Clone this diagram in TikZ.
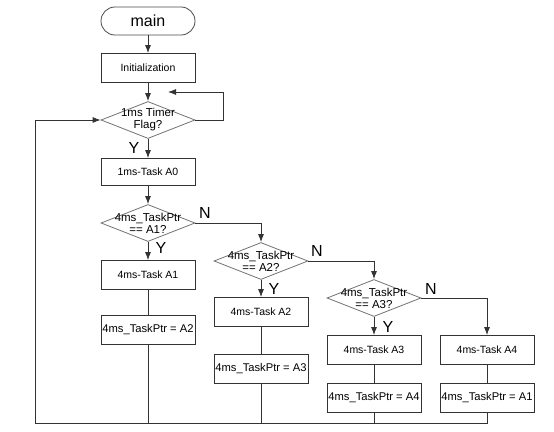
\documentclass[tikz,border=0pt]{standalone}
\usepackage{fontspec}
\setmainfont{Liberation Sans}
\usetikzlibrary{shapes.geometric,arrows.meta}
\begin{document}
\begin{tikzpicture}[x=1pt,y=-1pt,
  every node/.style={font=\fontsize{10.5}{12}\selectfont},
  line/.style={draw=black!80,line width=0.8pt},
  arr/.style={line,-{Latex[length=8pt,width=6pt]}},
  procbox/.style={draw=black!80,line width=0.8pt,minimum width=94pt,minimum height=29pt,inner sep=0pt},
  ptrbox/.style={procbox,font=\fontsize{11.2}{13}\selectfont},
  termbox/.style={draw=black!70,line width=0.8pt,rounded corners=14pt,minimum width=94pt,minimum height=28pt,inner sep=0pt,font=\fontsize{16}{18}\selectfont},
  decbox/.style={diamond,draw=black!55,line width=0.8pt,minimum width=94pt,minimum height=37pt,inner sep=0pt},
  dectext/.style={label={[align=center,inner sep=0pt,font=\fontsize{11.5}{12}\selectfont]center:{#1}}},
  yn/.style={font=\fontsize{16}{18}\selectfont,inner sep=0pt}]
\useasboundingbox (0,0) rectangle (554,431);
\fill[white] (0,0) rectangle (554,431);
% nodes
\node[termbox] (main) at (148,21) {main};
\node[procbox] (init) at (148,68) {Initialization};
\node[decbox,dectext={1ms Timer\\Flag?}] (d0) at (148,120) {};
\node[procbox,minimum height=27pt] (t0) at (148,172) {1ms-Task A0};
\node[decbox,dectext={4ms\_TaskPtr\\== A1?}] (d1) at (148,223) {};
\node[procbox] (t1) at (148,275) {4ms-Task A1};
\node[ptrbox] (p1) at (148,330) {4ms\_TaskPtr = A2};
\node[decbox,dectext={4ms\_TaskPtr\\== A2?}] (d2) at (261,261) {};
\node[procbox] (t2) at (261,312) {4ms-Task A2};
\node[ptrbox] (p2) at (261,369) {4ms\_TaskPtr = A3};
\node[decbox,dectext={4ms\_TaskPtr\\== A3?}] (d3) at (374,298) {};
\node[procbox] (t3) at (374,350) {4ms-Task A3};
\node[ptrbox] (p3) at (374,398) {4ms\_TaskPtr = A4};
\node[procbox] (t4) at (487,350) {4ms-Task A4};
\node[ptrbox] (p4) at (487,398) {4ms\_TaskPtr = A1};
% labels
\node[yn] (y0) at (134,148) {Y};
\node[yn] (y1) at (161,248) {Y};
\node[yn] (n1) at (205,213) {N};
\node[yn] (y2) at (274,289) {Y};
\node[yn] (n2) at (317,251) {N};
\node[yn] (y3) at (388,327) {Y};
\node[yn] (n3) at (431,289) {N};
% coordinates
\coordinate (bl) at (35,423);
\coordinate (loopend) at (168,92);
% connectors
\draw[arr] (main) -- (init);
\draw[arr] (init) -- (d0);
\draw[arr] (d0.east) -- ++(28,0) |- (loopend);
\draw[arr] (d0) -- (t0);
\draw[arr] (t0) -- (d1);
\draw[arr] (d1) -- (t1);
\draw[line] (t1) -- (p1);
\draw[arr] (d1.east) -| (d2.north);
\draw[arr] (d2) -- (t2);
\draw[line] (t2) -- (p2);
\draw[arr] (d2.east) -| (d3.north);
\draw[arr] (d3) -- (t3);
\draw[line] (t3) -- (p3);
\draw[arr] (d3.east) -| (t4.north);
\draw[line] (t4) -- (p4);
\draw[line] (p4.south) |- (bl);
\draw[line] (p1.south) -- (p1.south |- bl);
\draw[line] (p2.south) -- (p2.south |- bl);
\draw[line] (p3.south) -- (p3.south |- bl);
\draw[arr] (bl) |- (d0.west);
\end{tikzpicture}
\end{document}
